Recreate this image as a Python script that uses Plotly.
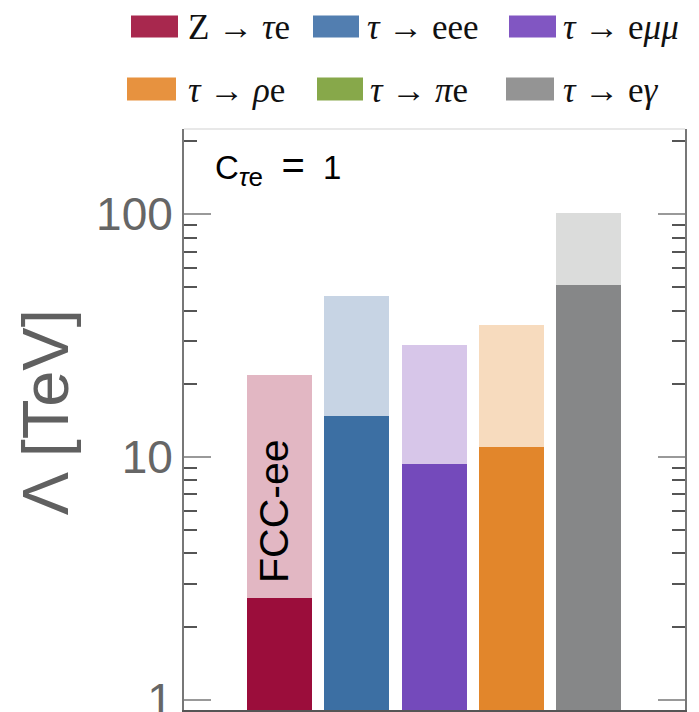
import math
import plotly.graph_objects as go

# ---- data ----
channels = ["Z → τe", "τ → eee", "τ → eμμ", "τ → ρe", "τ → eγ"]
lambda_future = [21.8, 46.2, 29.0, 35.1, 101.0]   # light (projected) bars, TeV
lambda_current = [2.62, 14.8, 9.31, 11.0, 50.9]   # dark bars, TeV
dark_colors = ["#9b0d3b", "#3c6fa3", "#744abb", "#e2862b", "#868788"]
light_colors = ["#e2b7c3", "#c7d4e4", "#d7c6e9", "#f7dbbe", "#dbdcdb"]

legend_labels = ["Z → <i>τ</i>e", "<i>τ</i> → eee", "<i>τ</i> → e<i>μμ</i>",
                 "<i>τ</i> → <i>ρ</i>e", "<i>τ</i> → <i>π</i>e", "<i>τ</i> → e<i>γ</i>"]
legend_colors = ["#a8284e", "#527eb0", "#8156c2", "#e7923f", "#87a84a", "#949494"]

y_major = [1, 10, 100]
y_major_text = ["1", "10", "100"]
y_minor = [2, 3, 4, 5, 6, 7, 8, 9, 20, 30, 40, 50, 60, 70, 80, 90, 200]

y_title = "Λ [TeV]"
fcc_label_value = 5.97

# ---- layout geometry (pixels, measured on the 699x712 page) ----
OFF = 8                       # page body margin
W, H = 699 - OFF, 712 - OFF
L, R, T, B = 184, 685, 128.5, 710
pw, ph = R - L, B - T


def px(x):
    return (x - L) / pw


def py(y):
    return (B - y) / ph


fig = go.Figure()
fig.add_trace(go.Bar(x=channels, y=lambda_future, width=0.842,
                     marker=dict(color=light_colors, line=dict(width=0)),
                     showlegend=False, hoverinfo="skip"))
fig.add_trace(go.Bar(x=channels, y=lambda_current, width=0.842,
                     marker=dict(color=dark_colors, line=dict(width=0)),
                     showlegend=False, hoverinfo="skip"))

shapes = []
annotations = []

# top frame line (faint)
shapes.append(dict(type="line", xref="paper", yref="paper", x0=0, x1=1, y0=1, y1=1,
                   line=dict(color="#e0e0e0", width=1.5)))

# custom legend
sw_x = [(131, 178), (313, 359), (509, 556), (127, 176), (317, 363), (506, 554)]
sw_y = [(15, 37), (15, 37), (15, 37), (77, 100), (77, 100), (77, 100)]
txt_x = [186, 365, 561, 186, 368, 561]
for i, lab in enumerate(legend_labels):
    (x0, x1), (y0, y1) = sw_x[i], sw_y[i]
    shapes.append(dict(type="rect", xref="paper", yref="paper",
                       x0=px(x0), x1=px(x1), y0=py(y1), y1=py(y0),
                       fillcolor=legend_colors[i], line=dict(width=0)))
    annotations.append(dict(text=lab, xref="paper", yref="paper",
                            x=px(txt_x[i]), y=py((y0 + y1) / 2 + 1),
                            xanchor="left", yanchor="middle", showarrow=False,
                            font=dict(family="Liberation Serif", size=35, color="#111")))

# coupling label
annotations.append(dict(
    text=("C<sub><span style='font-size:26px'><i>τ</i>e</span></sub>&nbsp;&nbsp;"
          "<span style='font-size:40px'>=</span>&nbsp;&nbsp;1"),
    xref="paper", yref="paper",
    x=px(213), y=py(167), xanchor="left", yanchor="middle",
    showarrow=False,
    font=dict(family="Liberation Sans", size=33, color="#000")))

# FCC-ee label
annotations.append(dict(text="FCC-ee", x=channels[0], y=math.log10(fcc_label_value),
                        textangle=-90, showarrow=False, xanchor="center", yanchor="middle",
                        xshift=-5,
                        font=dict(family="Liberation Sans", size=41, color="#000")))

# y-axis title
annotations.append(dict(text=y_title, xref="paper", yref="paper",
                        x=px(45), y=py(412), textangle=-90, showarrow=False,
                        xanchor="center", yanchor="middle",
                        font=dict(family="Liberation Sans", size=65, color="#606060")))

fig.update_layout(
    width=W, height=H,
    margin=dict(l=L - OFF, r=W - (R - OFF), t=T - OFF, b=H - (B - OFF), pad=0,
                autoexpand=False),
    paper_bgcolor="white", plot_bgcolor="white",
    barmode="overlay",
    bargap=0,
    shapes=shapes, annotations=annotations,
    xaxis=dict(range=[-1.24, 5.25], showticklabels=False, ticks="",
               showline=True, linecolor="#555", linewidth=2, showgrid=False,
               zeroline=False, fixedrange=True, automargin=False),
    yaxis=dict(type="log", range=[-0.043, 2.351], automargin=False,
               tickmode="array", tickvals=y_major, ticktext=y_major_text,
               ticks="inside", ticklen=27, tickwidth=1.5, tickcolor="#999",
               minor=dict(tickmode="array", tickvals=y_minor, ticks="inside",
                          ticklen=13, tickwidth=1.5, tickcolor="#555"),
               showline=True, linecolor="#777", linewidth=2, mirror="ticks",
               showgrid=False, zeroline=False, ticklabeloverflow="allow",
               tickfont=dict(family="Liberation Sans", size=46, color="#666")),
)

fig.write_html("out.html")
